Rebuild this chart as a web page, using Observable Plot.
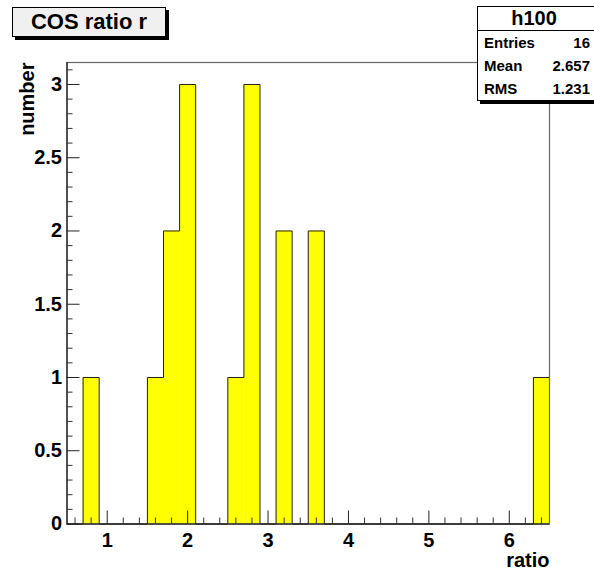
<!DOCTYPE html>
<html>
<head>
<meta charset="utf-8">
<script src="https://cdn.jsdelivr.net/npm/d3@7"></script>
<script src="https://cdn.jsdelivr.net/npm/@observablehq/plot@0.6"></script>
<style>
  html, body { margin: 0; padding: 0; background: #fff; overflow: hidden; }
  #wrap { position: relative; width: 594px; height: 571px; font-family: "Liberation Sans", Arial, Helvetica, sans-serif; font-weight: bold; }
  #title { position: absolute; left: 12px; top: 7px; width: 152px; height: 28px; border: 1px solid #000; background: #f0f0f0; box-shadow: 3px 3px 0 #000; font-size: 22px; line-height: 28px; text-align: center; }
  #stats { position: absolute; left: 477px; top: 6px; width: 116px; height: 93px; border: 1px solid #000; background: #fff; box-shadow: 3px 3px 0 #000; }
  #stats .hdr { height: 23px; line-height: 23px; font-size: 20px; text-align: center; border-bottom: 1px solid #000; padding-right: 4px; }
  #stats .row { height: 23px; line-height: 23px; font-size: 15px; display: flex; justify-content: space-between; padding: 0 4px 0 6px; }
  svg { position: absolute; left: 0; top: 0; }
</style>
</head>
<body>
<div id="wrap">
  <div id="plot"></div>
  <div id="title">COS ratio r</div>
  <div id="stats"></div>
</div>
<script>
// ---- data ----
const histName = "h100";
const titleText = "COS ratio r";
const xLabel = "ratio";
const yLabel = "number";
const binLow = [0.7, 1.5, 1.7, 1.9, 2.5, 2.7, 3.1, 3.5, 6.3];
const binCount = [1, 1, 2, 3, 1, 3, 2, 2, 1];
const binWidth = 0.2;
const xRange = [0.5, 6.5];
const yRange = [0, 3.15];
const xMajorTicks = [1, 2, 3, 4, 5, 6];
const xMinorTicks = [0.6, 0.8, 1.2, 1.4, 1.6, 1.8, 2.2, 2.4, 2.6, 2.8, 3.2, 3.4, 3.6, 3.8, 4.2, 4.4, 4.6, 4.8, 5.2, 5.4, 5.6, 5.8, 6.2, 6.4];
const yMajorTicks = [0, 0.5, 1, 1.5, 2, 2.5, 3];
const yMinorTicks = [0.1, 0.2, 0.3, 0.4, 0.6, 0.7, 0.8, 0.9, 1.1, 1.2, 1.3, 1.4, 1.6, 1.7, 1.8, 1.9, 2.1, 2.2, 2.3, 2.4, 2.6, 2.7, 2.8, 2.9, 3.1];
const statLabels = ["Entries", "Mean", "RMS"];
const statValues = ["16", "2.657", "1.231"];

// ---- build tables ----
const bars = binLow.map((lo, i) => ({x1: lo, x2: +(lo + binWidth).toFixed(2), y: binCount[i]}));
const nBins = Math.round((xRange[1] - xRange[0]) / binWidth);
const countAt = new Map(binLow.map((lo, i) => [lo.toFixed(1), binCount[i]]));
const outline = [];
for (let i = 0; i < nBins; i++) {
  const lo = +(xRange[0] + i * binWidth).toFixed(1);
  outline.push({x: lo, y: countAt.get(lo.toFixed(1)) || 0});
}
outline.push({x: xRange[1], y: 0});

const font = {fontSize: 20, fontWeight: "bold"};
const fmt = d => String(d);

const chart = Plot.plot({
  width: 594,
  height: 571,
  marginLeft: 66.5,
  marginRight: 45,
  marginTop: 62,
  marginBottom: 47.5,
  style: {fontFamily: '"Liberation Sans", Arial, Helvetica, sans-serif', background: "transparent"},
  x: {domain: xRange},
  y: {domain: yRange},
  marks: [
    Plot.rectY(bars, {x1: "x1", x2: "x2", y: "y", fill: "#ffff00"}),
    Plot.line(outline, {x: "x", y: "y", curve: "step-after", stroke: "#222", strokeWidth: 1}),
    Plot.frame({stroke: "#666", strokeWidth: 1.2}),
    Plot.ruleY([yRange[0]], {stroke: "#000"}),
    Plot.ruleX([xRange[0]], {stroke: "#000"}),
    Plot.axisX(xMinorTicks, {tickSize: -6, text: null, label: null, stroke: "#333"}),
    Plot.axisX(xMajorTicks, {tickSize: -13, text: null, label: null, stroke: "#222"}),
    Plot.axisX(xMajorTicks, {tickSize: 0, tickPadding: 9, label: null, tickFormat: fmt, ...font, fill: "#000"}),
    Plot.axisY(yMinorTicks, {tickSize: -6, text: null, label: null, stroke: "#333"}),
    Plot.axisY(yMajorTicks, {tickSize: -13, text: null, label: null, stroke: "#222"}),
    Plot.axisY(yMajorTicks, {tickSize: 0, tickPadding: 5, label: null, tickFormat: fmt, ...font, fill: "#000"}),
    Plot.text([xLabel], {frameAnchor: "bottom-right", textAnchor: "end", dy: 43, ...font, fill: "#000"}),
    Plot.text([yLabel], {frameAnchor: "top-left", textAnchor: "end", rotate: -90, dx: -47.5, ...font, fill: "#000"})
  ]
});
document.getElementById("plot").appendChild(chart);

const stats = document.getElementById("stats");
const hdr = document.createElement("div");
hdr.className = "hdr";
hdr.textContent = histName;
stats.appendChild(hdr);
statLabels.forEach((lab, i) => {
  const r = document.createElement("div");
  r.className = "row";
  const a = document.createElement("span"); a.textContent = lab;
  const b = document.createElement("span"); b.textContent = statValues[i];
  r.appendChild(a); r.appendChild(b);
  stats.appendChild(r);
});
document.getElementById("title").textContent = titleText;
</script>
</body>
</html>
